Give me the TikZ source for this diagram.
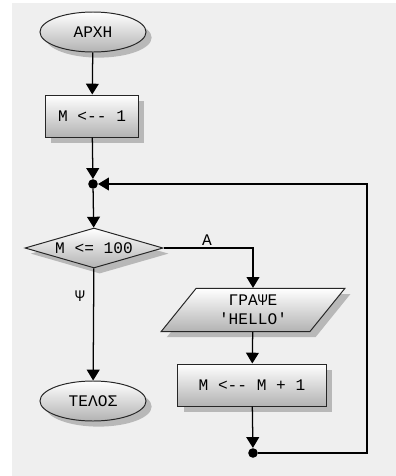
\documentclass[tikz,border=0pt]{standalone}
\usepackage{fontspec}
\setmainfont{Liberation Mono}[Ligatures=TeXOff]
\usetikzlibrary{shapes.geometric,shadows,arrows.meta}

\begin{document}
\begin{tikzpicture}[x=0.025cm,y=-0.025cm,font=\fontsize{11.5}{13.5}\selectfont,
  shade/.style={draw=black!85,line width=0.7pt,top color=white,bottom color=black!30,
    drop shadow={shadow xshift=0.14cm,shadow yshift=-0.14cm,fill=black!28,opacity=1}},
  endnode/.style={shade,ellipse,minimum width=2.65cm,minimum height=1cm,inner sep=0},
  procnode/.style={shade,rectangle,minimum height=1.05cm,inner sep=0},
  testnode/.style={shade,diamond,shape aspect=3.45,minimum width=3.45cm,minimum height=1cm,inner sep=0},
  ionode/.style={shade,trapezium,trapezium left angle=55,trapezium right angle=125,
    trapezium stretches=true,minimum width=4.6cm,minimum height=1.08cm,inner sep=0,
    align=center},
  dotnode/.style={circle,fill=black,minimum size=0.24cm,inner sep=0},
  arr/.style={line width=0.9pt,-{Triangle[width=0.32cm,length=0.27cm]}}]
\useasboundingbox (0,0) rectangle (396,476);
\definecolor{paper}{HTML}{EFEFEF}
\fill[paper] (12,3) rectangle (396,476);
\node[endnode] (start) at (93,32) {ΑΡΧΗ};
\node[procnode,minimum width=2.33cm] (init) at (92,116) {M <-- 1};
\node[dotnode] (j1) at (93,184) {};
\node[testnode] (cond) at (94,248) {M <= 100};
\node[ionode] (out) at (253,310) {ΓΡΑΨΕ\\'HELLO'};
\node[procnode,minimum width=3.7cm] (inc) at (252,385) {M <-- M + 1};
\node[dotnode] (j2) at (253,453) {};
\node[endnode] (stop) at (93,401) {ΤΕΛΟΣ};
\coordinate (rt) at (367,184);
\node (yes) at (207,240) {Α};
\node (no) at (80,296) {Ψ};
\draw[arr] (start) -- (init);
\draw[arr] (init) -- (j1);
\draw[arr] (j1) -- (cond);
\draw[arr] (cond.east) -| (out.north);
\draw[arr] (cond) -- (stop);
\draw[arr] (out) -- (inc);
\draw[arr] (inc) -- (j2);
\draw[arr] (j2) -| (rt) -- (j1);
\end{tikzpicture}
\end{document}
